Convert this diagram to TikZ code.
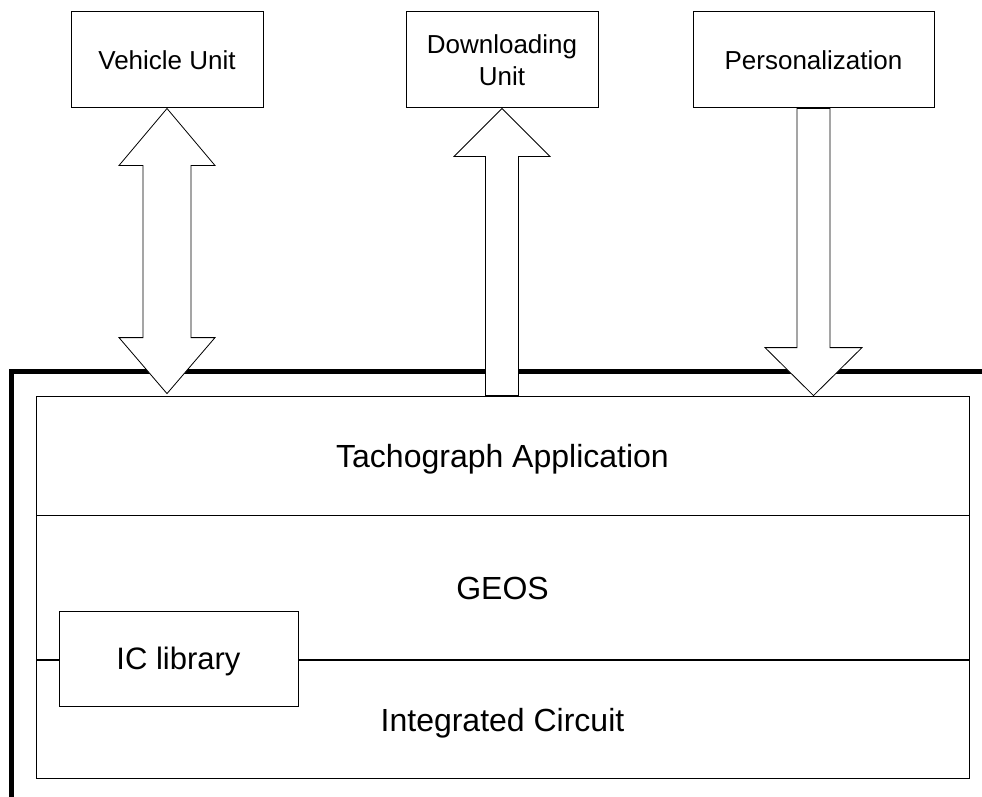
\documentclass[tikz,border=0pt]{standalone}
\usepackage{fontspec}
\setmainfont{Liberation Sans}
\usetikzlibrary{positioning,calc}

\tikzset{
  unitbox/.style={draw, line width=1pt, minimum width=192pt, minimum height=96pt,
    inner sep=0pt, align=center, text height=18.6pt, text depth=0pt,
    font=\fontsize{26}{32}\selectfont},
  layerbox/.style={draw, line width=0.8pt, minimum width=933pt, inner sep=0pt,
    text height=23pt, text depth=0pt, font=\fontsize{32}{38}\selectfont},
  blockarrow/.style={draw, line width=0.8pt, fill=white, line join=miter},
}

\begin{document}
\begin{tikzpicture}[x=1pt,y=-1pt]
    \useasboundingbox (0,0) rectangle (982,797);
    % units outside the card
    \node[unitbox] (vu) at (167,60) {Vehicle Unit};
    \node[unitbox, text height=50.6pt] (du) at (502,60) {Downloading\\Unit};
    \node[unitbox, minimum width=241pt] (pers) at (813.5,60) {Personalization};

    % the card border
    \draw[line width=5pt, line join=miter] (11.5,797) -- (11.5,371) -- (982,371);

    % layers of the card
    \node[layerbox, minimum height=119pt] (app) at (502.5,455.5) {Tachograph Application};
    \node[layerbox, minimum height=144pt, below=0pt of app] (geos) {GEOS};
    \node[layerbox, minimum height=118pt, below=0pt of geos] (ic) {Integrated Circuit};
    \node[draw, line width=0.8pt, fill=white, minimum width=239pt, minimum height=95pt,
      inner sep=0pt, text height=22pt, text depth=0pt,
      font=\fontsize{31}{37}\selectfont] (iclib) at (178.5,658.5) {IC library};

    % Vehicle Unit: both ways
    \coordinate (vuend) at ($(app.north -| vu.south)+(0,-2)$);
    \draw[blockarrow] (vu.south) -- ++(48,57) -- ++(-24,0)
        -- ($(vuend)+(24,-56)$) -- ++(24,0) -- (vuend) -- ++(-48,-56) -- ++(24,0)
        -- ($(vu.south)+(-24,57)$) -- ++(-24,0) -- cycle;
    % Downloading: from the card
    \coordinate (duend) at (app.north -| du.south);
    \draw[blockarrow] (du.south) -- ++(48,48) -- ++(-31.5,0)
        -- ($(duend)+(16.5,0)$) -- ++(-33,0)
        -- ($(du.south)+(-16.5,48)$) -- ++(-31.5,0) -- cycle;
    % Personalization: to the card
    \coordinate (persend) at (app.north -| pers.south);
    \draw[blockarrow] ($(pers.south)+(-16.5,0)$) -- ++(33,0)
        -- ($(persend)+(16.5,-48)$) -- ++(32,0) -- (persend)
        -- ++(-48.5,-48) -- ++(32,0) -- cycle;
\end{tikzpicture}
\end{document}
